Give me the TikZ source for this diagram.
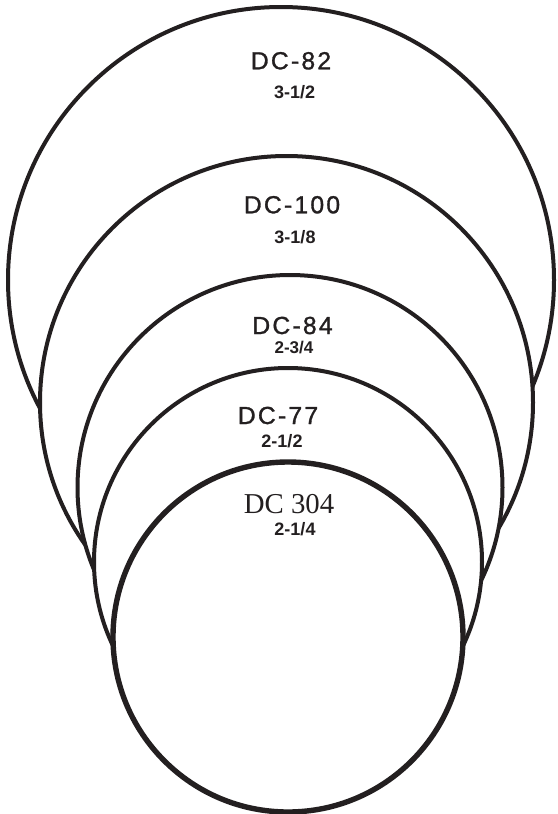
\documentclass[tikz,border=0pt]{standalone}
\usepackage{fontspec}
\setmainfont{Liberation Sans}
\newfontfamily\serifface{Liberation Serif}
\newfontfamily\labelface[LetterSpace=9,FakeBold=1.2]{Liberation Sans}
\definecolor{ink}{HTML}{231F20}
\begin{document}
\begin{tikzpicture}[x=1pt,y=-1pt,
  ring/.style={circle, draw=ink, fill=white, line width=4pt, inner sep=0pt},
  innerring/.style={ring, line width=5.4pt},
  model/.style={anchor=base, inner sep=0pt, text=ink, font=\labelface\fontsize{24.7}{28}\selectfont},
  serifmodel/.style={anchor=base, inner sep=0pt, text=ink, font=\serifface\fontsize{28.8}{32}\selectfont},
  size/.style={anchor=base, inner sep=0pt, text=ink, font=\bfseries\fontsize{18}{20}\selectfont}]
\useasboundingbox (0,0) rectangle (557,814);
\node[ring, minimum size=546pt] (c1) at (281,280) {};
\node[ring, minimum size=493pt] (c2) at (286.5,402.5) {};
\node[ring, minimum size=425pt] (c3) at (290,487.5) {};
\node[ring, minimum size=388pt] (c4) at (288,562) {};
\node[innerring, minimum size=350pt] (c5) at (288,637) {};
\node[model] (t1) at (291,69.3) {DC-82};
\node[size] (s1) at (294.7,98.3) {3-1/2};
\node[model] (t2) at (292,213.3) {DC-100};
\node[size] (s2) at (295,243.3) {3-1/8};
\node[model] (t3) at (292.5,334) {DC-84};
\node[size, font=\bfseries\fontsize{17}{19}\selectfont] (s3) at (294,353.3) {2-3/4};
\node[model] (t4) at (278,424) {DC-77};
\node[size] (s4) at (282,447.7) {2-1/2};
\node[serifmodel] (t5) at (289,513.3) {DC 304};
\node[size] (s5) at (295,535) {2-1/4};
\end{tikzpicture}
\end{document}
